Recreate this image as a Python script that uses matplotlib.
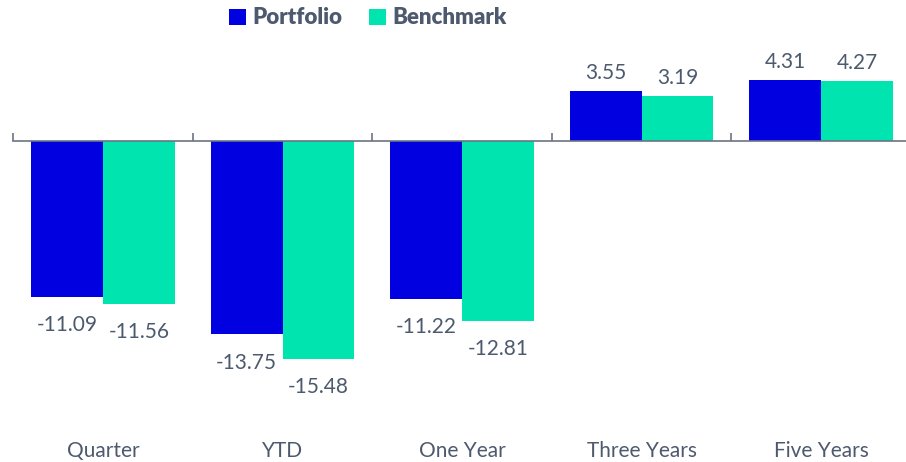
import matplotlib
matplotlib.use("Agg")
import matplotlib.pyplot as plt
import matplotlib.transforms as mtransforms
from matplotlib.patches import Patch
import numpy as np

categories = ["Quarter", "YTD", "One Year", "Three Years", "Five Years"]
portfolio = [-11.09, -13.75, -11.22, 3.55, 4.31]
benchmark = [-11.56, -15.48, -12.81, 3.19, 4.27]

BLUE = "#0000e1"
GREEN = "#00e5b0"
TEXT = "#4d5a6e"
AXIS = "#6b7485"

plt.rcParams["font.family"] = ["Lato", "DejaVu Sans"]

fig = plt.figure(figsize=(9.06, 4.62), dpi=100)
W, H = 906, 462
left, right = 13.3, 910.8
top, bottom = 40, 430
ax = fig.add_axes([left / W, 1 - bottom / H, (right - left) / W, (bottom - top) / H])

x = np.arange(len(categories))
w = 0.4
ax.bar(x - w / 2, portfolio, w, color=BLUE, edgecolor="none")
ax.bar(x + w / 2, benchmark, w, color=GREEN, edgecolor="none")

ax.set_xlim(-0.5, len(categories) - 0.5)
ax.set_ylim(-(bottom - 141) / 14.07, (141 - top) / 14.07)

for spine in ["top", "right", "left"]:
    ax.spines[spine].set_visible(False)
ax.spines["bottom"].set_position(("data", 0))
ax.spines["bottom"].set_color(AXIS)
ax.spines["bottom"].set_linewidth(1.2)
ax.set_yticks([])
ax.set_xticks(np.arange(-0.5, len(categories), 1.0))
ax.tick_params(axis="x", direction="in", length=6, width=1.2, color=AXIS, labelbottom=False)

trans = mtransforms.blended_transform_factory(ax.transData, fig.transFigure)
for i, cat in enumerate(categories):
    ax.text(i, 1 - 451 / H, cat, transform=trans, ha="center", va="center",
            fontsize=15, color=TEXT)

for xs, vals in [(x - w / 2, portfolio), (x + w / 2, benchmark)]:
    for xi, v in zip(xs, vals):
        if v >= 0:
            ax.annotate(f"{v:.2f}", (xi, v), xytext=(0, 6), textcoords="offset points",
                        ha="center", va="bottom", fontsize=15, color=TEXT)
        else:
            ax.annotate(f"{v:.2f}", (xi, v), xytext=(0, -13), textcoords="offset points",
                        ha="center", va="top", fontsize=15, color=TEXT)

handles = [Patch(facecolor=BLUE, label="Portfolio"), Patch(facecolor=GREEN, label="Benchmark")]
leg = fig.legend(handles=handles, loc="center", bbox_to_anchor=(368 / W, 1 - 18 / H), ncol=2,
                 frameon=False, handlelength=0.75, handleheight=0.75, handletextpad=0.3,
                 columnspacing=1.2, prop={"weight": "heavy", "size": 16})
for t in leg.get_texts():
    t.set_color(TEXT)

fig.savefig("out.png", dpi=100)
